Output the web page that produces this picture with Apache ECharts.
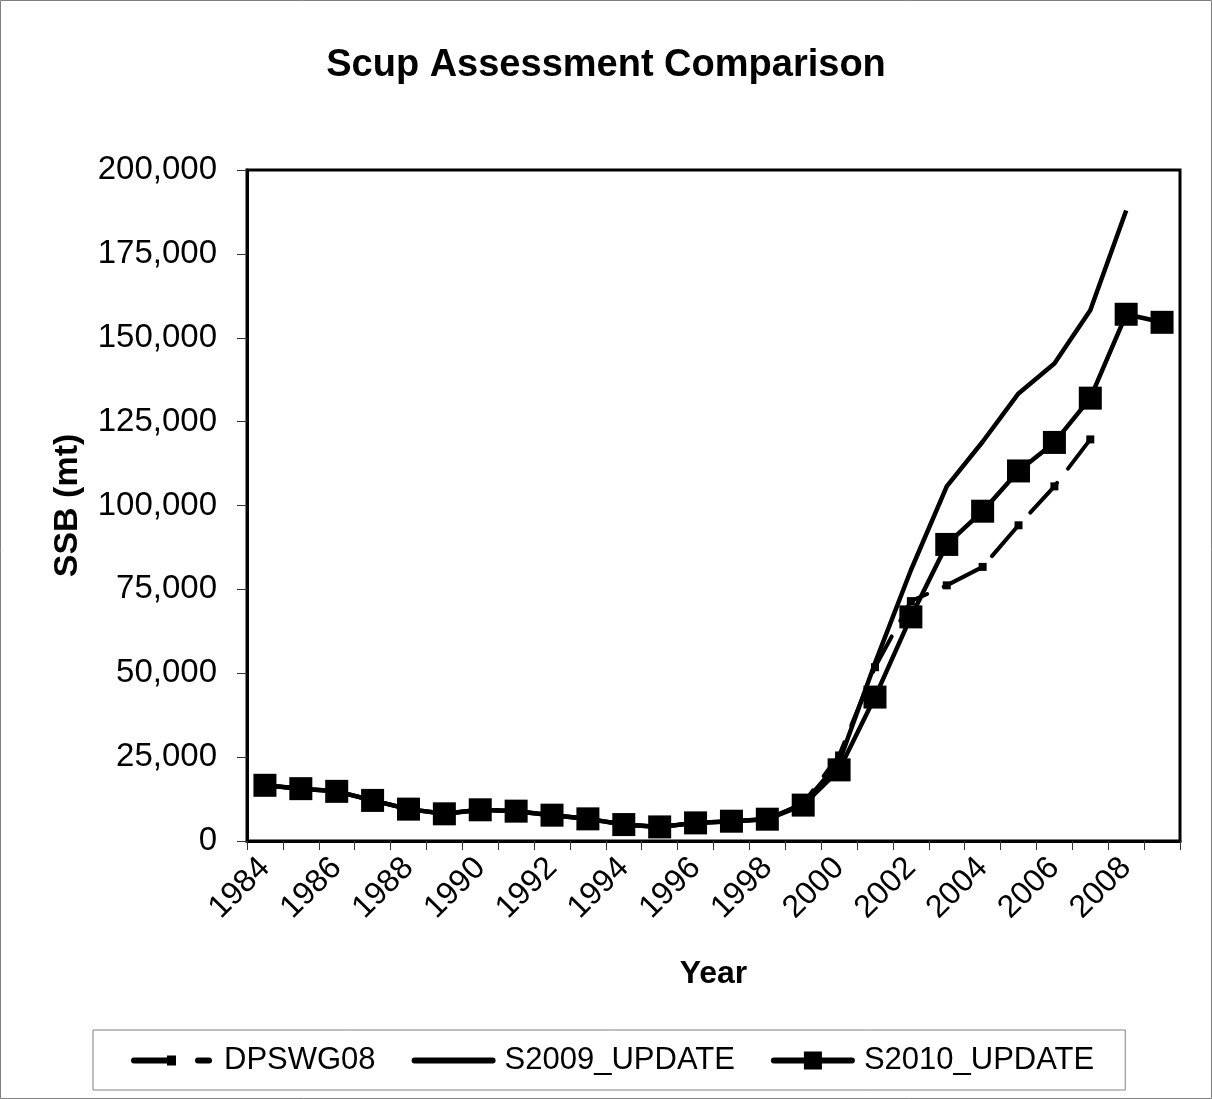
<!DOCTYPE html>
<html>
<head>
<meta charset="utf-8">
<script src="https://cdn.jsdelivr.net/npm/echarts@6/dist/echarts.min.js"></script>
<style>
html,body{margin:0;padding:0;background:#fff;}
#chart{width:1212px;height:1099px;}
</style>
</head>
<body>
<div id="chart"></div>
<script>
var years = ['1984','1985','1986','1987','1988','1989','1990','1991','1992','1993','1994','1995','1996','1997','1998','1999','2000','2001','2002','2003','2004','2005','2006','2007','2008','2009'];
var dpswg08 = [16600,15600,14800,12100,9500,8100,9300,8900,7700,6600,4900,4200,5400,5900,6500,11200,25500,51800,71500,76200,81700,94100,105700,119700];
var s2009 = [16600,15600,14800,12100,9500,8100,9300,8900,7700,6600,4900,4200,5400,5900,6500,11000,23500,53000,80700,105700,119000,133400,142300,158200,187900];
var s2010 = [16600,15600,14800,12100,9500,8100,9300,8900,7700,6600,4900,4200,5400,5900,6500,10700,21200,42900,66800,88400,98300,110300,118800,132000,157000,154600];
var yTicks = {min:0, max:200000, interval:25000};

var FONT = "'Liberation Sans', Arial, Helvetica, sans-serif";
// legend icon shapes (84 x 24 box; tiny corner dots fix the bounding box)
var corners = 'M0,0h0.01v0.01h-0.01z M84,24h-0.01v-0.01h0.01z ';
var iconDash = 'path://' + corners +
  'M3,9 h34 a3,3 0 0 1 0,6 h-34 a3,3 0 0 1 0,-6 z M36,7 h9 v10 h-9 z M67,9 h11 a3,3 0 0 1 0,6 h-11 a3,3 0 0 1 0,-6 z';
var iconLine = 'path://' + corners + 'M3,9 h78 a3,3 0 0 1 0,6 h-78 a3,3 0 0 1 0,-6 z';
var iconSq = 'path://' + corners + 'M3,9 h78 a3,3 0 0 1 0,6 h-78 a3,3 0 0 1 0,-6 z M33,3 h18 v18 h-18 z';

var chart = echarts.init(document.getElementById('chart'), null, {renderer:'canvas'});
chart.setOption({
  backgroundColor:'#ffffff',
  animation:false,
  graphic:[{type:'rect', shape:{x:0.5,y:0.5,width:1211,height:1098}, style:{fill:'none', stroke:'#808080', lineWidth:1}, silent:true}],
  title:{text:'Scup Assessment Comparison', left:'center', top:42,
    textStyle:{fontFamily:FONT, fontSize:38, fontWeight:'bold', color:'#000'}},
  grid:{left:247, top:170, width:933, height:671, show:true, borderColor:'#000', borderWidth:3, backgroundColor:'#fff', containLabel:false},
  legend:{left:93, top:1030, padding:[15,31,14,38], itemGap:36, itemWidth:84, itemHeight:24,
    borderColor:'#808080', borderWidth:1, borderRadius:0,
    textStyle:{fontFamily:FONT, fontSize:31, color:'#000', padding:[0,0,0,4]},
    data:[{name:'DPSWG08', icon:iconDash},{name:'S2009_UPDATE', icon:iconLine},{name:'S2010_UPDATE', icon:iconSq}]},
  xAxis:{type:'category', data:years, boundaryGap:true,
    name:'Year', nameLocation:'middle', nameGap:117,
    nameTextStyle:{fontFamily:FONT, fontSize:32, fontWeight:'bold', color:'#000'},
    axisLine:{lineStyle:{color:'#000', width:3}},
    axisTick:{show:true, inside:false, length:9, interval:0, lineStyle:{color:'#333', width:1}},
    axisLabel:{interval:1, rotate:45, margin:22, fontFamily:FONT, fontSize:32, color:'#000'},
    splitLine:{show:false}},
  yAxis:{type:'value', min:yTicks.min, max:yTicks.max, interval:yTicks.interval,
    name:'SSB (mt)', nameLocation:'middle', nameGap:162, nameRotate:90,
    nameTextStyle:{fontFamily:FONT, fontSize:34, fontWeight:'bold', color:'#000'},
    axisLine:{show:true, lineStyle:{color:'#000', width:3}},
    axisTick:{show:true, length:10, lineStyle:{color:'#333', width:1}},
    axisLabel:{margin:30, fontFamily:FONT, fontSize:33, color:'#000',
      formatter:function(v){return v.toString().replace(/\B(?=(\d{3})+(?!\d))/g, ',');}},
    splitLine:{show:false}},
  series:[
    {name:'DPSWG08', type:'line', data:dpswg08, symbol:'rect', symbolSize:8,
      lineStyle:{color:'#000', width:4, type:[40,18], cap:'round'},
      itemStyle:{color:'#000'}, z:2},
    {name:'S2009_UPDATE', type:'line', data:s2009, symbol:'none', showSymbol:false,
      lineStyle:{color:'#000', width:4.5}, itemStyle:{color:'#000'}, z:3},
    {name:'S2010_UPDATE', type:'line', data:s2010, symbol:'rect', symbolSize:23,
      lineStyle:{color:'#000', width:4.5}, itemStyle:{color:'#000'}, z:4}
  ]
});
</script>
</body>
</html>
